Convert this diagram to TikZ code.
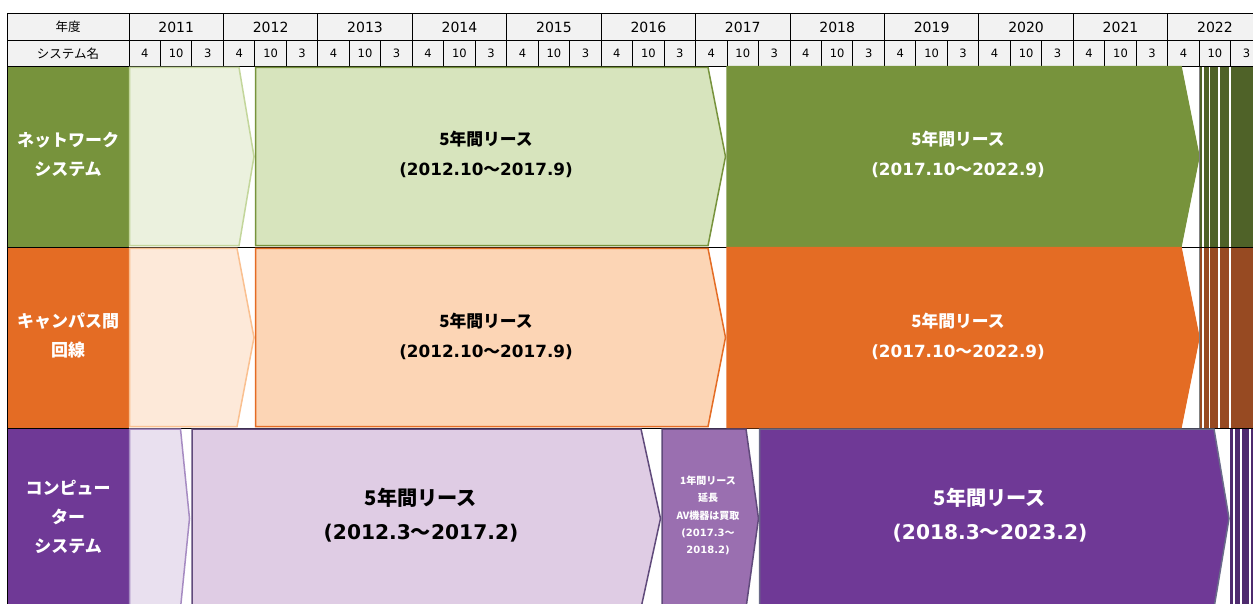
\documentclass[tikz,border=0pt]{standalone}
\usepackage{fontspec}
\setmainfont{DejaVu Sans}
\newfontfamily\jp{Noto Sans CJK JP}
\definecolor{hdrbg}{HTML}{F2F2F2}
\definecolor{gA}{HTML}{EBF1DE}\definecolor{gAb}{HTML}{C3D69B}
\definecolor{gB}{HTML}{D7E4BD}\definecolor{gC}{HTML}{77933C}
\definecolor{gD}{HTML}{4F6228}
\definecolor{oA}{HTML}{FDE9D9}\definecolor{oAb}{HTML}{FAC090}
\definecolor{oB}{HTML}{FCD5B5}\definecolor{oC}{HTML}{E46C24}
\definecolor{oD}{HTML}{974A22}
\definecolor{pA}{HTML}{E9E0EF}\definecolor{pAb}{HTML}{A68BC2}
\definecolor{pB}{HTML}{DFCCE4}\definecolor{pBb}{HTML}{604A7B}
\definecolor{pM}{HTML}{9A6FB0}\definecolor{pC}{HTML}{6F3996}
\definecolor{pCb}{HTML}{6A6A8A}\definecolor{pD}{HTML}{4E2A6E}
\newcommand\chev[7]{% x0 xs xt ytop ybot fill draw
  \pgfmathsetmacro\ymid{(#4+#5)/2}
  \filldraw[fill=#6,draw=#7,line width=1.5pt,line join=miter]
    (#1,#4) -- (#2,#4) -- (#3,\ymid) -- (#2,#5) -- (#1,#5) -- cycle;}
\begin{document}
\begin{tikzpicture}[x=1pt,y=-1pt,
  hdr/.style={font=\jp\fontsize{12.5}{14}\selectfont,inner sep=0pt},
  yr/.style={font=\fontsize{14}{16}\selectfont,inner sep=0pt},
  sub/.style={font=\fontsize{11.5}{12}\selectfont,inner sep=0pt},
  rowlbl/.style={font=\jp\bfseries\fontsize{17}{29}\selectfont,text=white,align=center,inner sep=0pt},
  lease/.style={font=\bfseries\fontsize{16.8}{30}\selectfont,align=center,inner sep=0pt},
  bigl/.style={font=\bfseries\fontsize{20.2}{34}\selectfont,align=center,inner sep=0pt},
  small/.style={font=\bfseries\fontsize{10}{17.3}\selectfont,text=white,align=center,inner sep=0pt}]
\useasboundingbox (0,0) rectangle (1253,603);
\clip (0,0) rectangle (1253,603);
\fill[white] (0,0) rectangle (1253,603);
% header
\fill[hdrbg] (7,13) rectangle (1270,66);
\draw[line width=1pt] (7,13) -- (1270,13) (7,40.7) -- (1270,40.7) (7,66) -- (1270,66);
\draw[line width=1pt] (7,13) -- (7,610) (129,13) -- (129,66);
\draw[line width=1pt] (7,247) -- (1270,247) (7,428) -- (1270,428);
\node[hdr] (nendo) at (68,27) {年度};
\node[hdr] (sysname) at (68,53.5) {システム名};
\foreach \k in {0,...,11}{
  \pgfmathsetmacro\xa{129+\k*94.43}
  \pgfmathtruncatemacro\yr{2011+\k}
  \draw[line width=1pt] (\xa,13) -- (\xa,66);
  \draw[line width=1pt] (\xa+31.48,40.7) -- (\xa+31.48,66) (\xa+62.96,40.7) -- (\xa+62.96,66);
  \node[yr] (y\k) at (\xa+47.2,27) {\yr};
  \node[sub] (m\k a) at (\xa+15.74,53.5) {4};
  \node[sub] (m\k b) at (\xa+47.2,53.5) {10};
  \node[sub] (m\k c) at (\xa+78.7,53.5) {3};
}
% row labels
\fill[gC] (7.5,66.5) rectangle (128.5,246.5);
\fill[oC] (7.5,247.5) rectangle (128.5,427.5);
\fill[pC] (7.5,428.5) rectangle (128.5,610);
\node[rowlbl] (lnet) at (68,154) {ネットワーク\\システム};
\node[rowlbl] (lcamp) at (68,336) {キャンパス間\\回線};
\node[rowlbl] (lcomp) at (68,516.5) {コンピュー\\ター\\システム};
% network row
\chev{129.5}{239}{254}{67.3}{245.7}{gA}{gAb}
\chev{255.5}{708}{725.5}{67.3}{245.7}{gB}{gC}
\chev{727}{1181}{1199}{66.5}{246.5}{gC}{gC}
\foreach \a/\b in {1199/1202,1203.7/1208.8,1210.3/1218.2,1219.7/1229.3,1230.8/1260}
  \fill[gD] (\a,66.5) rectangle (\b,246.5);
\draw[gray,line width=1pt] (1199.5,66.5) -- (1199.5,246.5);
\node[lease] (n2) at (486,154) {{\jp 5年間リース}\\(2012.10{\jp ～}2017.9)};
\node[lease,text=white] (n3) at (958,154) {{\jp 5年間リース}\\(2017.10{\jp ～}2022.9)};
% campus row
\chev{129.5}{237}{254}{248.3}{426.7}{oA}{oAb}
\chev{255.5}{708}{725.5}{248.3}{426.7}{oB}{oC}
\chev{727}{1181}{1199}{247.5}{427.5}{oC}{oC}
\foreach \a/\b in {1199/1202,1203.7/1208.8,1210.3/1218.2,1219.7/1229.3,1230.8/1260}
  \fill[oD] (\a,247.5) rectangle (\b,427.5);
\draw[gray,line width=1pt] (1199.5,247.5) -- (1199.5,427.5);
\node[lease] (c2) at (486,336) {{\jp 5年間リース}\\(2012.10{\jp ～}2017.9)};
\node[lease,text=white] (c3) at (958,336) {{\jp 5年間リース}\\(2017.10{\jp ～}2022.9)};
% computer row
\chev{129.5}{180.5}{189.5}{429}{608}{pA}{pAb}
\chev{192}{641}{660.5}{429}{608}{pB}{pBb}
\chev{662}{746}{758.5}{429}{608}{pM}{pBb}
\chev{759.5}{1214}{1229}{429}{608}{pC}{pCb}
\foreach \a/\b in {1230/1233.3,1235/1240,1242/1249,1250.5/1260}
  \fill[pD] (\a,428.5) rectangle (\b,610);
\node[bigl] (p2) at (421,515) {{\jp 5年間リース}\\(2012.3{\jp ～}2017.2)};
\node[bigl,text=white] (p3) at (990,515) {{\jp 5年間リース}\\(2018.3{\jp ～}2023.2)};
\node[small] (pm) at (708,515.5) {{\jp 1年間リース}\\{\jp 延長}\\{\jp AV機器は買取}\\(2017.3{\jp ～}\\2018.2)};
\end{tikzpicture}
\end{document}
